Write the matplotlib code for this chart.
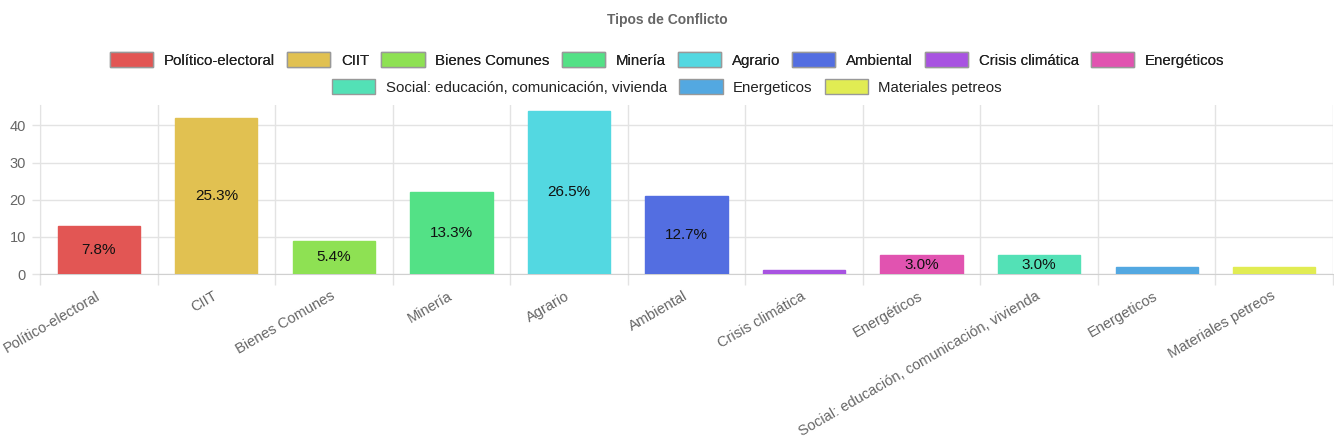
import numpy as np
import matplotlib
matplotlib.use("Agg")
import matplotlib.pyplot as plt
from matplotlib.patches import Patch
from matplotlib.ticker import FixedLocator

plt.rcParams['font.family'] = ['Liberation Sans', 'DejaVu Sans']

categories = ["Político-electoral", "CIIT", "Bienes Comunes", "Minería", "Agrario",
              "Ambiental", "Crisis climática", "Energéticos",
              "Social: educación, comunicación, vivienda", "Energeticos", "Materiales petreos"]
values = [13, 42, 9, 22, 44, 21, 1, 5, 5, 2, 2]
colors = ["#e25654", "#e1c151", "#8ee153", "#53e186", "#53d8e1", "#536ee1",
          "#a853e1", "#e153b0", "#53e1b6", "#53a8e1", "#e1ec53"]
y_ticks = [0, 10, 20, 30, 40]

grey = "#666666"
grid_c = "#e3e3e3"

fig = plt.figure(figsize=(13.34, 4.45), dpi=100)
ax = fig.add_axes([40 / 1334, (445 - 274) / 445, 1293 / 1334, 169 / 445])

x = np.arange(len(categories))
ax.bar(x, values, width=0.7, color=colors, edgecolor=colors, linewidth=1, zorder=3)

total = sum(values)
for xi, v in zip(x, values):
    pct = v / total * 100
    if pct >= 3:
        ax.text(xi, v / 2, f"{pct:.1f}%", ha="center", va="center", fontsize=11,
                color="#111111", zorder=4)

ax.set_xlim(-0.5, len(categories) - 0.5)
ax.set_ylim(0, 45.5)
ax.set_yticks(y_ticks)
ax.yaxis.grid(True, color=grid_c, linewidth=1, zorder=0)
ax.xaxis.set_minor_locator(FixedLocator(np.arange(len(categories) + 1) - 0.5))
ax.xaxis.grid(True, which="minor", color=grid_c, linewidth=1, zorder=0)
ax.set_xticks(x)
ax.set_xticklabels(categories, rotation=30, ha="right", va="center",
                   rotation_mode="anchor", fontsize=10.5, color=grey)
ax.tick_params(axis="x", which="major", length=0, pad=15)
ax.tick_params(axis="x", which="minor", length=8, color=grid_c, width=1)
ax.tick_params(axis="y", length=6, color=grid_c, width=1, labelsize=10.5,
               labelcolor=grey, pad=4)
for side in ["top", "right"]:
    ax.spines[side].set_visible(False)
ax.spines["left"].set_color(grid_c)
ax.spines["bottom"].set_color("#d0d0d0")

fig.text(0.5, 1 - 20 / 445, "Tipos de Conflicto", ha="center", va="center",
         fontsize=10, fontweight="bold", color=grey)

handles = [Patch(facecolor=c, edgecolor="#999999", linewidth=1, label=l)
           for c, l in zip(colors, categories)]
leg_kw = dict(frameon=False, fontsize=10.8, handlelength=2.9, handleheight=1.1,
              handletextpad=0.7, columnspacing=0.8, borderaxespad=0, borderpad=0)
leg1 = fig.legend(handles=handles[:8], ncol=8, loc="center",
                  bbox_to_anchor=(0.5, 1 - 60 / 445), **leg_kw)
fig.add_artist(leg1)
for t in leg1.get_texts():
    t.set_color("#222222")
leg2 = fig.legend(handles=handles[8:], ncol=3, loc="center",
                  bbox_to_anchor=(0.5, 1 - 87 / 445), **leg_kw)
for t in leg2.get_texts():
    t.set_color("#222222")

fig.savefig("out.png", dpi=100)
